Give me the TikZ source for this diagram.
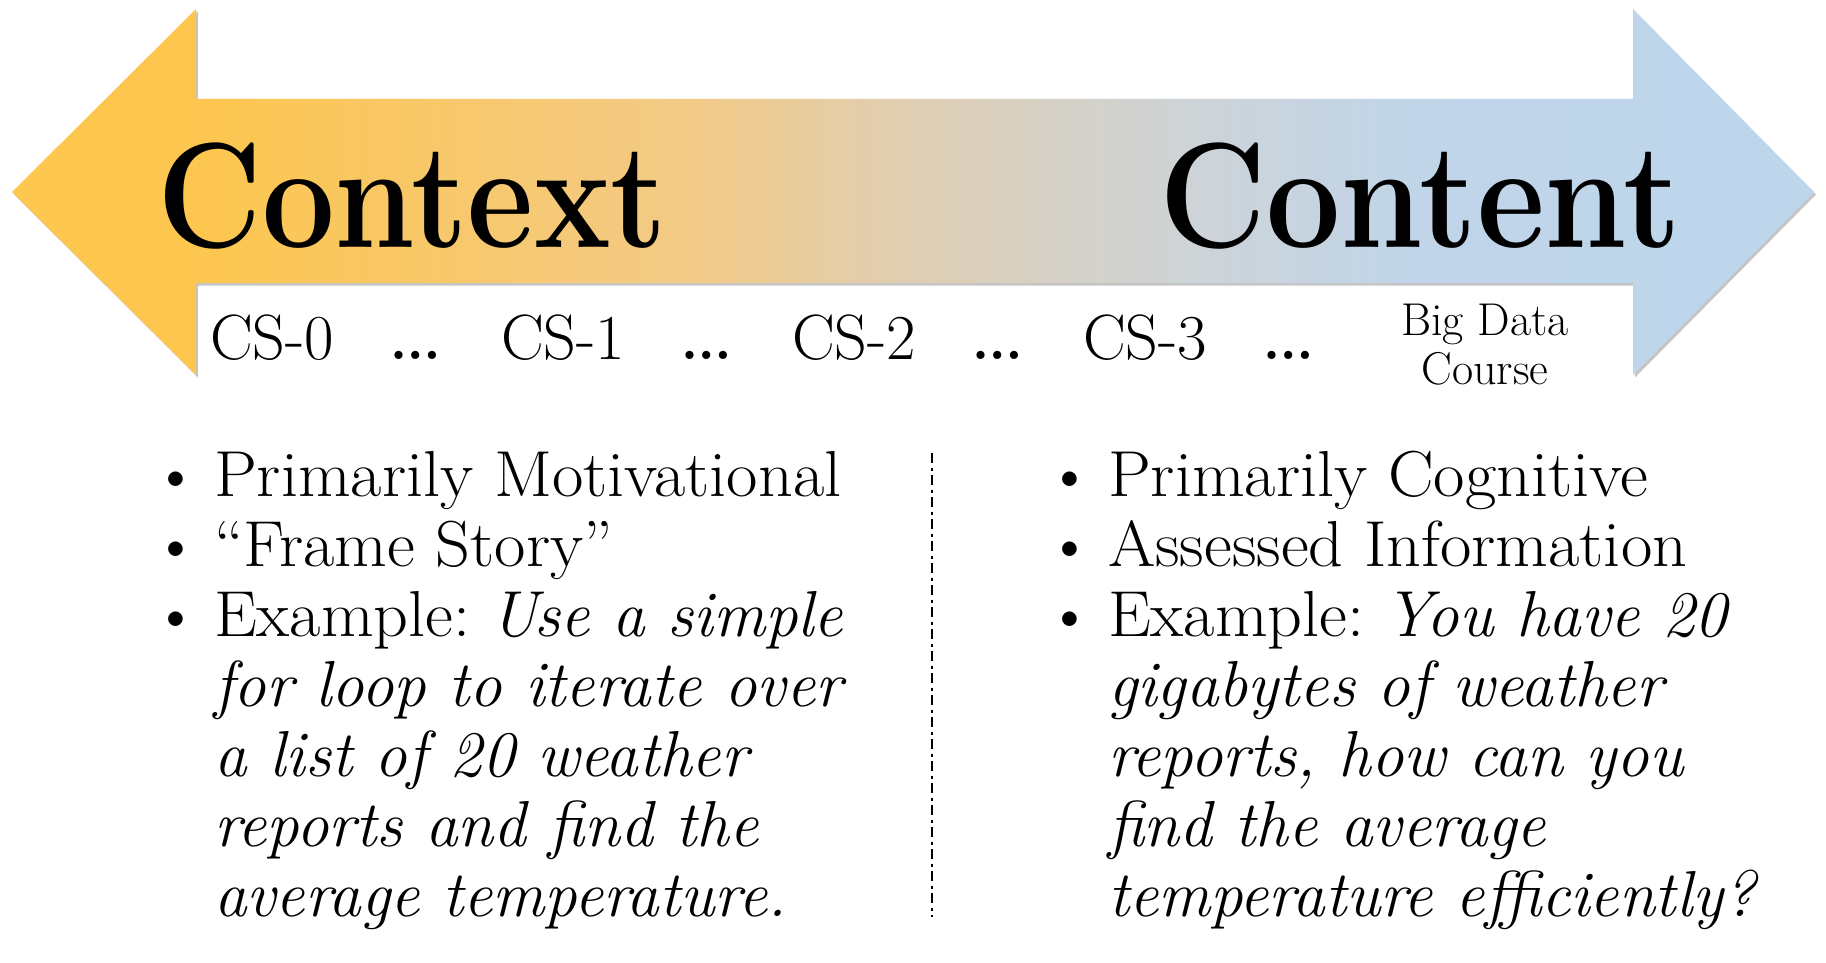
\documentclass[tikz,border=0pt]{standalone}
\usepackage{fontspec}
\usepackage{tikz}
\usetikzlibrary{positioning}
\definecolor{ctxorange}{RGB}{253,198,78}
\definecolor{bandA}{RGB}{242,202,135}
\definecolor{bandB}{RGB}{224,206,176}
\definecolor{bandC}{RGB}{213,209,198}
\definecolor{bandD}{RGB}{205,211,216}
\definecolor{bandE}{RGB}{193,213,232}
\definecolor{cntblue}{RGB}{189,214,236}
\definecolor{shadowgray}{RGB}{90,90,90}
% orange -> beige -> grey -> blue along the band (path box = 25bp..75bp)
\pgfdeclarehorizontalshading{bandshade}{100bp}{
  color(0bp)=(ctxorange);
  color(30bp)=(ctxorange);
  color(44bp)=(bandA);
  color(49.5bp)=(bandB);
  color(54bp)=(bandC);
  color(58bp)=(bandD);
  color(63.5bp)=(bandE);
  color(75bp)=(cntblue);
  color(100bp)=(cntblue)}
% outline of the double arrow (pixel units, y pointing down)
\newcommand\bandoutline{(12,192) -- (196,9) -- (196,99) -- (1633,99) -- (1633,9)
  -- (1814,192) -- (1633,375) -- (1633,283) -- (196,283) -- (196,375) -- cycle}
\newcommand\wide[1]{\scalebox{1.05}[1]{#1}}

\begin{document}
\begin{tikzpicture}[x=1pt, y=-1pt,
  band/.style={shading=bandshade},
  bandshadow/.style={fill=shadowgray, opacity=0.35, xshift=2pt, yshift=-2.5pt},
  bigword/.style={font=\fontsize{150}{150}\selectfont\bfseries, anchor=base west, inner sep=0pt},
  cslab/.style={font=\fontsize{64}{64}\selectfont, anchor=base west, inner sep=0pt},
  dotslab/.style={font=\fontsize{100}{100}\selectfont, anchor=base west, inner sep=0pt},
  bdlab/.style={font=\fontsize{46}{49}\selectfont, align=center, inner sep=0pt},
  column/.style={font=\fontsize{65}{70}\selectfont, anchor=base west, inner sep=0pt},
  sep/.style={line width=2.6pt, dash pattern=on 10pt off 4.5pt on 3pt off 4.5pt}
]
  \useasboundingbox (0,0) rectangle (1826,963);
  % ---------------- double arrow ----------------
  \fill[bandshadow] \bandoutline;
  \shade[band] \bandoutline;
  % ---------------- titles ----------------
  \node[bigword] (context) at (157,247) {\scalebox{0.86}[1]{Context}};
  \node[bigword] (content) at (1159,247) {\scalebox{0.88}[1]{Content}};
  % ---------------- course scale ----------------
  \node[cslab] (cs0) at (210,359) {CS-0};
  \node[dotslab] (d0) at (386,359) {\dots};
  \node[cslab] (cs1) at (501,359) {CS-1};
  \node[dotslab] (d1) at (677,359) {\dots};
  \node[cslab] (cs2) at (792,359) {CS-2};
  \node[dotslab] (d2) at (968,359) {\dots};
  \node[cslab] (cs3) at (1083,359) {CS-3};
  \node[dotslab] (d3) at (1259,359) {\dots};
  \node[bdlab] (bigdata) at (1485,345) {Big Data\\Course};
  % ---------------- two columns ----------------
  \node[column] (left) at (152,496) {%
    \begin{tabular}[t]{@{}l@{\hspace{15pt}}l@{}}
      \textbullet & \wide{Primarily Motivational}\\
      \textbullet & \wide{``Frame Story''}\\
      \textbullet & \wide{Example:} \textit{Use a simple}\\
                  & \itshape for loop to iterate over\\
                  & \itshape a list of 20 weather\\
                  & \itshape reports and find the\\
                  & \itshape average temperature.
    \end{tabular}};
  \node[column] (right) at (1046,496) {%
    \begin{tabular}[t]{@{}l@{\hspace{15pt}}l@{}}
      \textbullet & \wide{Primarily Cognitive}\\
      \textbullet & \wide{Assessed Information}\\
      \textbullet & \wide{Example:} \textit{You have 20}\\
                  & \itshape gigabytes of weather\\
                  & \itshape reports, how can you\\
                  & \itshape find the average\\
                  & \itshape temperature efficiently?
    \end{tabular}};
  % divider between the columns
  \coordinate (septop) at (932,453);
  \coordinate (sepbot) at (932,917);
  \draw[sep] (septop) -- (sepbot);
\end{tikzpicture}
\end{document}
